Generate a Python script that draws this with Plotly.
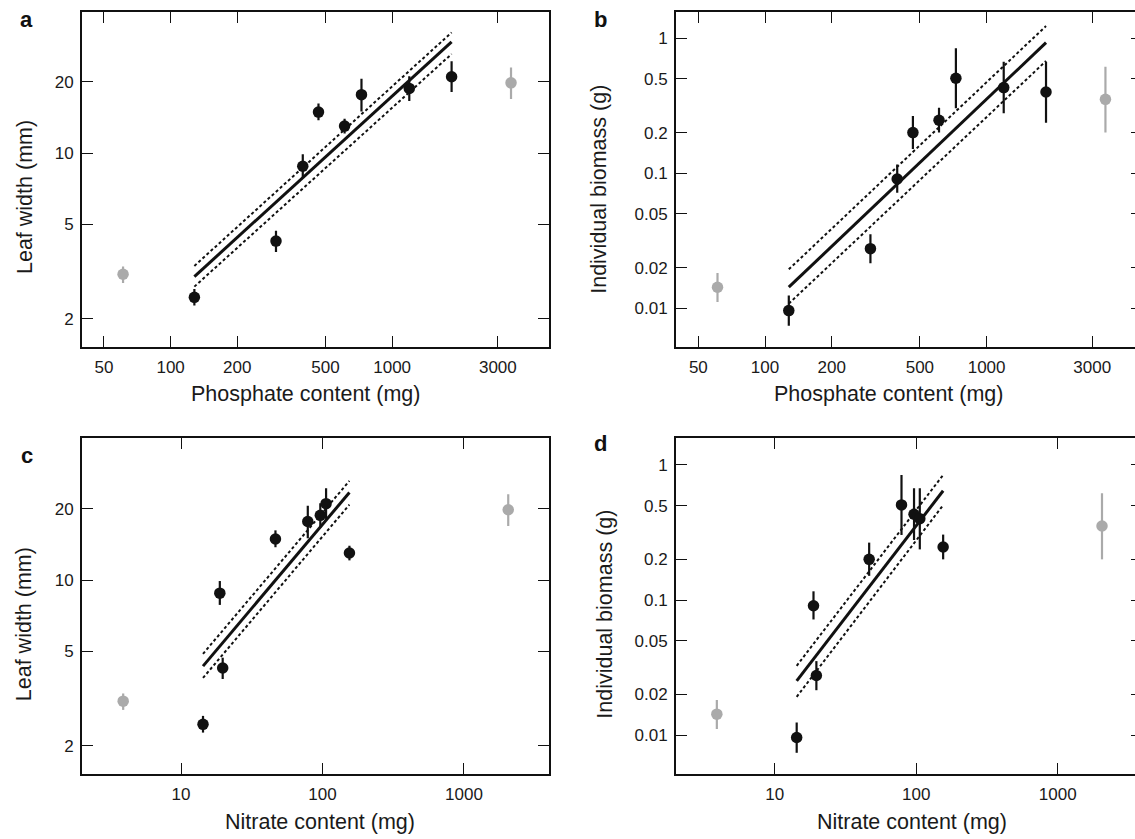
import plotly.graph_objects as go

# ---------------- data ----------------
phosphate = [61, 128, 299, 395, 465, 610, 727, 1195, 1855, 3440]          # mg
nitrate = [3.9, 14.3, 19.7, 18.8, 46.5, 155, 78.7, 96.5, 106, 2055]       # mg
leaf_width = [3.08, 2.46, 4.25, 8.8, 14.9, 13.0, 17.65, 18.75, 21.0, 19.8]  # mm
leaf_hi = [3.32, 2.67, 4.70, 9.9, 16.2, 13.95, 20.6, 21.1, 24.4, 23.0]
leaf_lo = [2.83, 2.27, 3.82, 7.85, 13.75, 12.1, 15.0, 16.6, 18.1, 16.9]
biomass = [0.0143, 0.0096, 0.0276, 0.0907, 0.200, 0.247, 0.506, 0.431, 0.400, 0.353]  # g
bio_hi = [0.0182, 0.0124, 0.0353, 0.116, 0.266, 0.305, 0.843, 0.671, 0.671, 0.616]
bio_lo = [0.0111, 0.0074, 0.0215, 0.0718, 0.151, 0.200, 0.303, 0.278, 0.237, 0.200]
excluded = [True, False, False, False, False, False, False, False, False, True]

# regression lines (end points) and confidence bands
fit_x_phos = [128, 1855]
fit_x_nitr = [14.3, 155]
fit_a = [3.01, 29.5]
fit_a_hi = [3.34, 32.3]
fit_a_lo = [2.73, 26.2]
fit_b = [0.0143, 0.928]
fit_b_hi = [0.0194, 1.233]
fit_b_lo = [0.0108, 0.679]
fit_c = [4.33, 23.4]
fit_c_hi = [4.88, 26.2]
fit_c_lo = [3.86, 20.8]
fit_d = [0.0252, 0.644]
fit_d_hi = [0.0326, 0.843]
fit_d_lo = [0.0192, 0.504]

phos_ticks = [50, 100, 200, 500, 1000, 3000]
nitr_ticks = [10, 100, 1000]
leaf_ticks = [2, 5, 10, 20]
bio_ticks = [0.01, 0.02, 0.05, 0.1, 0.2, 0.5, 1]

panel_letters = ["a", "b", "c", "d"]
x_titles = ["Phosphate content (mg)", "Phosphate content (mg)", "Nitrate content (mg)", "Nitrate content (mg)"]
y_titles = ["Leaf width (mm)", "Individual biomass (g)", "Leaf width (mm)", "Individual biomass (g)"]

# ---------------- layout geometry ----------------
W, H = 1135, 839
FONT = "Liberation Sans, Arial, Helvetica, sans-serif"
BLACK = "#111111"
GREY = "#aaaaaa"


def px(x):
    return x / W


def py(y):
    return 1 - y / H


col_x = [(82, 549), (676, 1135)]
row_y = [(11.7, 347.3), (438.3, 774.3)]

fig = go.Figure()

panels = [
    dict(x=phosphate, y=leaf_width, hi=leaf_hi, lo=leaf_lo, fx=fit_x_phos, f=fit_a, fh=fit_a_hi, fl=fit_a_lo,
         xr=[1.600, 3.708], yr=[0.180, 1.597], xt=phos_ticks, yt=leaf_ticks, col=0, row=0),
    dict(x=phosphate, y=biomass, hi=bio_hi, lo=bio_lo, fx=fit_x_phos, f=fit_b, fh=fit_b_hi, fl=fit_b_lo,
         xr=[1.598, 3.670], yr=[-2.29, 0.197], xt=phos_ticks, yt=bio_ticks, col=1, row=0),
    dict(x=nitrate, y=leaf_width, hi=leaf_hi, lo=leaf_lo, fx=fit_x_nitr, f=fit_c, fh=fit_c_hi, fl=fit_c_lo,
         xr=[0.300, 3.601], yr=[0.180, 1.598], xt=nitr_ticks, yt=leaf_ticks, col=0, row=1),
    dict(x=nitrate, y=biomass, hi=bio_hi, lo=bio_lo, fx=fit_x_nitr, f=fit_d, fh=fit_d_hi, fl=fit_d_lo,
         xr=[0.3025, 3.546], yr=[-2.29, 0.197], xt=nitr_ticks, yt=bio_ticks, col=1, row=1),
]


def fmt(v):
    return ("%g" % v)


for i, p in enumerate(panels):
    n = i + 1
    xa = "x" if n == 1 else "x%d" % n
    ya = "y" if n == 1 else "y%d" % n
    for grp, color in ((True, GREY), (False, BLACK)):
        idx = [k for k in range(len(p["x"])) if excluded[k] == grp]
        xs = [p["x"][k] for k in idx]
        ys = [p["y"][k] for k in idx]
        up = [p["hi"][k] - p["y"][k] for k in idx]
        dn = [p["y"][k] - p["lo"][k] for k in idx]
        fig.add_trace(go.Scatter(
            x=xs, y=ys, mode="markers", xaxis=xa, yaxis=ya,
            marker=dict(size=11.5, color=color, line=dict(width=0)),
            error_y=dict(type="data", symmetric=False, array=up, arrayminus=dn,
                         color=color, thickness=2.2, width=0),
            showlegend=False, hoverinfo="skip"))
    for fy, w, dash in ((p["fh"], 2, "3px,2.5px"), (p["fl"], 2, "3px,2.5px"), (p["f"], 3, "solid")):
        fig.add_trace(go.Scatter(
            x=p["fx"], y=fy, mode="lines", xaxis=xa, yaxis=ya,
            line=dict(color=BLACK, width=w, dash=dash),
            showlegend=False, hoverinfo="skip"))

    x0, x1 = col_x[p["col"]]
    y0, y1 = row_y[p["row"]]
    right_cut = p["col"] == 1
    axis_common = dict(
        type="log", showline=True, linecolor=BLACK, linewidth=2,
        ticks="inside", ticklen=11, tickwidth=1.3, tickcolor=BLACK,
        showgrid=False, zeroline=False,
        tickfont=dict(family=FONT, size=17, color="#1a1a1a"),
    )
    xkey = "xaxis" if n == 1 else "xaxis%d" % n
    ykey = "yaxis" if n == 1 else "yaxis%d" % n
    fig.update_layout(**{
        xkey: dict(axis_common, domain=[px(x0), px(x1)], range=p["xr"], anchor=ya,
                   tickvals=p["xt"], ticktext=[fmt(v) for v in p["xt"]], mirror="ticks",
                   ticklabelstandoff=3),
        ykey: dict(axis_common, domain=[py(y1), py(y0)], range=p["yr"], anchor=xa,
                   tickvals=p["yt"], ticktext=[fmt(v) for v in p["yt"]],
                   mirror=False if right_cut else "ticks", ticklabelstandoff=3),
    })
    if right_cut:
        # short tick stubs on the right side (border lies just outside the picture)
        extra = n + 4
        ek = "yaxis%d" % extra
        fig.update_layout(**{
            ek: dict(type="log", overlaying=ya, side="right", anchor="free", position=1.0,
                     range=p["yr"], tickvals=p["yt"], showticklabels=False, ticks="inside",
                     ticklen=4, tickwidth=1.3, tickcolor=BLACK, showline=False, showgrid=False,
                     zeroline=False)
        })
        fig.add_trace(go.Scatter(x=p["x"], y=p["y"], mode="markers", xaxis=xa, yaxis="y%d" % extra,
                                 marker=dict(opacity=0), showlegend=False, hoverinfo="skip"))

annotations = []
letter_pos = [(26.7, 19.3), (600, 20), (26.7, 455), (600.4, 443.3)]
xt_pos = [(305.5, 394), (888, 394), (319.7, 822), (912, 822)]
yt_pos = [(25, 197), (599.5, 189.3), (24, 624.2), (605, 614.7)]
for i in range(4):
    lx, ly = letter_pos[i]
    annotations.append(dict(text="<b>%s</b>" % panel_letters[i], x=px(lx), y=py(ly), xref="paper", yref="paper",
                            showarrow=False, xanchor="center", yanchor="middle",
                            font=dict(family=FONT, size=22, color="#111111")))
    tx, ty = xt_pos[i]
    annotations.append(dict(text=x_titles[i], x=px(tx), y=py(ty), xref="paper", yref="paper",
                            showarrow=False, xanchor="center", yanchor="middle",
                            font=dict(family=FONT, size=21.5, color="#1a1a1a")))
    vx, vy = yt_pos[i]
    annotations.append(dict(text=y_titles[i], x=px(vx), y=py(vy), xref="paper", yref="paper",
                            showarrow=False, xanchor="center", yanchor="middle", textangle=-90,
                            font=dict(family=FONT, size=21.5, color="#1a1a1a")))

fig.update_layout(
    width=W, height=H, margin=dict(l=0, r=0, t=0, b=0),
    paper_bgcolor="white", plot_bgcolor="white",
    annotations=annotations, showlegend=False,
)

fig.write_html("out.html", config={"displayModeBar": False},
               post_script="document.body.style.margin='0px';document.body.style.overflow='hidden';")
